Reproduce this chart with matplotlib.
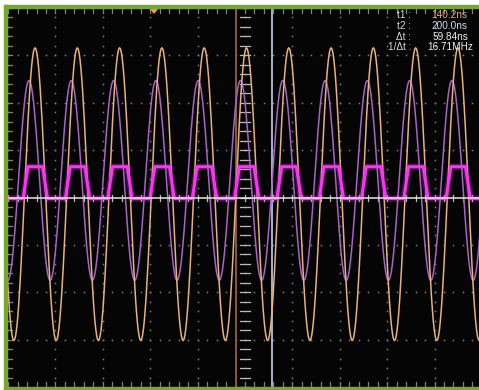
import numpy as np
import matplotlib
matplotlib.use("Agg")
import matplotlib.pyplot as plt
from matplotlib.patches import Rectangle, Polygon

# ---- cursor readout -------------------------------------------------------
T1_NS = 140.2
T2_NS = 200.0
DT_TEXT = "59.84ns"
INV_DT_TEXT = "16.71MHz"

# ---- channel A (orange): alternating peak / trough times (ns) and levels (div)
orange_t = [-263.9, -228.8, -193.6, -158.5, -123.4, -88.3, -53.1, -18.0,
            17.1, 52.3, 87.4, 122.5, 157.6, 192.8, 227.9, 263.0, 298.2,
            333.3, 368.4, 403.5, 438.7, 473.8, 508.9, 544.1, 579.2]
orange_v = [3.16, -3.02] * 12 + [3.16]

# ---- channel B (violet): alternating peak / trough times (ns) and levels (div)
violet_t = [-273.9, -238.8, -203.6, -168.5, -133.4, -98.3, -63.1, -28.0,
            7.1, 42.3, 77.4, 112.5, 147.6, 182.8, 217.9, 253.0, 288.2,
            323.3, 358.4, 393.5, 428.7, 463.8, 498.9, 534.1, 569.2]
violet_v = [2.47, -1.75] * 12 + [2.47]

# ---- channel C (magenta pulse train): rising / falling edge mid-times (ns)
pulse_rise = [-279.7, -209.4, -139.2, -68.9, 1.3, 71.6, 141.8, 212.1,
              282.4, 352.6, 422.9, 493.1]
pulse_fall = [-247.3, -177.0, -106.8, -36.5, 33.7, 104.0, 174.2, 244.5,
              314.8, 385.0, 455.3, 525.5]
pulse_high = 0.65
pulse_low = -0.02
pulse_edge_ns = 8.0

# ---- screen geometry (pixels of the 479x390 image) -------------------------
W, H = 479, 390
SCR_L, SCR_R, SCR_T, SCR_B = 7, 479, 8, 387
NS_PER_PX = (T2_NS - T1_NS) / 36.0
T_LEFT = T1_NS - (236 - SCR_L) * NS_PER_PX
T_RIGHT = T1_NS + (SCR_R - 236) * NS_PER_PX
T_CENTER = T1_NS + (245 - 236) * NS_PER_PX
DIV_NS = 47.375 * NS_PER_PX
PX_Y = 8.0 / (SCR_B - SCR_T)       # one pixel in vertical divisions


def fx(px):
    return px / W


def fy(py):
    return 1 - py / H


def smooth_trace(times, levels, n=24):
    """Join successive extremes with half-cosine segments."""
    xs, ys = [], []
    for i in range(len(times) - 1):
        s = np.linspace(0, 1, n, endpoint=False)
        xs.append(times[i] + (times[i + 1] - times[i]) * s)
        ys.append(levels[i] + (levels[i + 1] - levels[i]) * (1 - np.cos(np.pi * s)) / 2)
    xs.append([times[-1]])
    ys.append([levels[-1]])
    return np.concatenate(xs), np.concatenate(ys)


fig = plt.figure(figsize=(W / 100, H / 100), dpi=100, facecolor="white")

# green bezel
green = "#78a82a"
for (x0, y0, x1, y1) in [(3.5, 5, 7, 390), (3.5, 5, 479, 8), (3.5, 387, 479, 390)]:
    fig.patches.append(Rectangle((fx(x0), fy(y1)), fx(x1) - fx(x0), fy(y0) - fy(y1),
                                 transform=fig.transFigure, color=green, zorder=0))

ax = fig.add_axes([fx(SCR_L), fy(SCR_B), fx(SCR_R) - fx(SCR_L), fy(SCR_T) - fy(SCR_B)])
ax.set_facecolor("#050505")
ax.set_xlim(T_LEFT, T_RIGHT)
ax.set_ylim(-4, 4)
ax.set_xticks([])
ax.set_yticks([])
for sp in ax.spines.values():
    sp.set_visible(False)

grid_col = "#808080"
minor_x = T_CENTER + DIV_NS / 5 * np.arange(-30, 31)
minor_x = minor_x[(minor_x > T_LEFT) & (minor_x < T_RIGHT)]
minor_y = np.arange(-20, 21) / 5.0

# dotted graticule
for k in (-3, -2, -1, 1, 2, 3):
    ax.plot(minor_x, np.full_like(minor_x, k), ls="none", marker="s", ms=1.1,
            mec="none", mfc=grid_col, zorder=1)
for k in range(-5, 6):
    if k == 0:
        continue
    xg = T_CENTER + k * DIV_NS
    if T_LEFT < xg < T_RIGHT:
        ax.plot(np.full_like(minor_y, xg), minor_y, ls="none", marker="s", ms=1.1,
                mec="none", mfc=grid_col, zorder=1)

# edge ticks
for xm in minor_x:
    ax.plot([xm, xm], [4, 4 - 5 * PX_Y], color=grid_col, lw=0.9, zorder=1)
    ax.plot([xm, xm], [-4, -4 + 5 * PX_Y], color=grid_col, lw=0.9, zorder=1)
    ax.plot([xm, xm], [-3 * PX_Y, 3 * PX_Y], color="#bbbbbb", lw=0.9, zorder=1)
for ym in minor_y:
    ax.plot([T_LEFT, T_LEFT + 5 * NS_PER_PX], [ym, ym], color=grid_col, lw=0.9, zorder=1)
    ax.plot([T_CENTER - 5 * NS_PER_PX, T_CENTER + 5 * NS_PER_PX], [ym, ym],
            color="#bbbbbb", lw=0.9, zorder=1)
ax.plot(np.full_like(minor_y, T_CENTER), minor_y, ls="none", marker="s", ms=1.1,
        mec="none", mfc="#aaaaaa", zorder=1)

# time cursors
ax.axvline(T1_NS, color="#8a5a3a", lw=1.4, zorder=2)
ax.axvline(T2_NS, color="#b8c0d8", lw=1.3, zorder=2)

# analog channels
vx, vy = smooth_trace(violet_t, violet_v)
ax.plot(vx, vy, color="#a664c4", lw=1.1, zorder=3)
ox, oy = smooth_trace(orange_t, orange_v)
ax.plot(ox, oy, color="#e6b27c", lw=1.1, zorder=4)

# pulse train
px_, py_ = [T_LEFT - 20], [pulse_low]
for r, f in zip(pulse_rise, pulse_fall):
    px_ += [r - pulse_edge_ns / 2, r + pulse_edge_ns / 2, f - pulse_edge_ns / 2, f + pulse_edge_ns / 2]
    py_ += [pulse_low, pulse_high, pulse_high, pulse_low]
px_.append(T_RIGHT + 20)
py_.append(pulse_low)
ax.plot(px_, py_, color="#f030ec", lw=4.5, alpha=0.3, zorder=5)
ax.plot(px_, py_, color="#f438f0", lw=2.2, zorder=6)

# reference line
ax.axhline(0, color="#e8e8e8", lw=1.1, zorder=7)

# trigger position marker
ax.add_patch(Polygon([[T1_NS + (150 - 236) * NS_PER_PX, 4],
                      [T1_NS + (158 - 236) * NS_PER_PX, 4],
                      [T1_NS + (154 - 236) * NS_PER_PX, 4 - 5 * PX_Y]],
                     closed=True, color="#f0a030", zorder=8))

# cursor readout
font = dict(family="Liberation Sans", fontsize=7.2, va="center")
rows = [("t1 :", f"{T1_NS:.1f}ns", "#e8b078", 15, 467),
        ("t2 :", f"{T2_NS:.1f}ns", "#d0dcf4", 26, 467),
        ("\u0394t :", DT_TEXT, "#f0f0f0", 36.5, 468),
        ("1/\u0394t :", INV_DT_TEXT, "#f0f0f0", 47, 473)]
for lab, val, col, yy, xr in rows:
    fig.text(fx(411), fy(yy), lab, ha="right", color="#d8d8d8", zorder=10, **font)
    fig.text(fx(xr), fy(yy), val, ha="right", color=col, zorder=10, **font)

fig.savefig("out.png", dpi=100, facecolor="white")
